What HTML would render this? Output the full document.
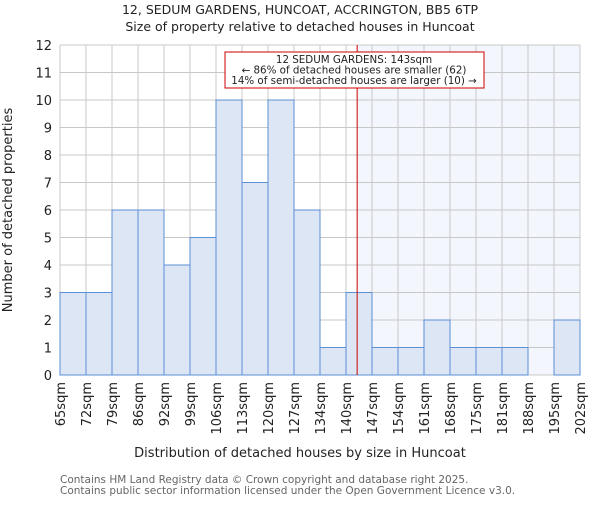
<!DOCTYPE html>
<html><head><meta charset="utf-8"><style>
body{margin:0;background:#fff}
svg{font-family:"DejaVu Sans","Liberation Sans",sans-serif}
</style></head><body>
<svg width="600" height="500">
<g id="root"></g>
</svg>
<script>
const edgeLabels=["65sqm","72sqm","79sqm","86sqm","92sqm","99sqm","106sqm","113sqm","120sqm","127sqm","134sqm","140sqm","147sqm","154sqm","161sqm","168sqm","175sqm","181sqm","188sqm","195sqm","202sqm"];
const counts=[3,3,6,6,4,5,10,7,10,6,1,3,1,1,2,1,1,1,0,2];
const yTicks=[0,1,2,3,4,5,6,7,8,9,10,11,12];
const markerBin=11+3/7;
const X0=60,X1=580,Y0=375,Y1=45,YMAX=12;
const bw=(X1-X0)/counts.length;
const xs=i=>X0+i*bw;
const ys=v=>Y0-(Y0-Y1)*v/YMAX;
const NS="http://www.w3.org/2000/svg";
const root=document.getElementById('root');
function mk(t,a,txt){const e=document.createElementNS(NS,t);for(const k in a)e.setAttribute(k,a[k]);if(txt!==undefined)e.textContent=txt;root.appendChild(e);return e;}
const mx=xs(markerBin);
let sh=mk('rect',{x:mx,y:Y1,width:X1-mx,height:Y0-Y1,fill:'#f3f6fc'});


yTicks.forEach(t=>{let g=mk('line',{x1:X0,x2:X1,y1:ys(t),y2:ys(t),stroke:'#c8c8c8','stroke-width':1});

});
edgeLabels.forEach((l,i)=>{let g=mk('line',{x1:xs(i),x2:xs(i),y1:Y1,y2:Y0,stroke:'#c8c8c8','stroke-width':1});

});
counts.forEach((c,i)=>{if(c<=0)return;let b=mk('rect',{x:xs(i),y:ys(c),width:bw,height:Y0-ys(c),fill:'#dce6f4',stroke:'#5b8fd6','stroke-width':1});

});
let ml=mk('line',{x1:mx,x2:mx,y1:Y1,y2:Y0,stroke:'#cc0000','stroke-width':1});


yTicks.forEach(t=>{let e=mk('text',{x:X0-8,y:ys(t)+5,'text-anchor':'end','font-size':13,fill:'#222'},t);

});
edgeLabels.forEach((l,i)=>{const x=xs(i)+5,y=382;let e=mk('text',{x:x,y:y,transform:`rotate(-90 ${x} ${y})`,'text-anchor':'end','font-size':13,fill:'#222'},l);

});
let bx=mk('rect',{x:225,y:52,width:259,height:36,fill:'#fff',stroke:'#cc0000','stroke-width':1});


["12 SEDUM GARDENS: 143sqm","← 86% of detached houses are smaller (62)","14% of semi-detached houses are larger (10) →"].forEach((s,i)=>{let e=mk('text',{x:354,y:63+i*10.5,'text-anchor':'middle','font-size':10.3,fill:'#222'},s);

});
let t1=mk('text',{x:300,y:14,'text-anchor':'middle','font-size':12.5,fill:'#222'},"12, SEDUM GARDENS, HUNCOAT, ACCRINGTON, BB5 6TP");


let t2=mk('text',{x:300,y:31,'text-anchor':'middle','font-size':12.5,fill:'#222'},"Size of property relative to detached houses in Huncoat");


let xt=mk('text',{x:300,y:457,'text-anchor':'middle','font-size':13,fill:'#222'},"Distribution of detached houses by size in Huncoat");


let yt=mk('text',{x:12,y:210,transform:'rotate(-90 12 210)','text-anchor':'middle','font-size':13,fill:'#222'},"Number of detached properties");


let f1=mk('text',{x:60,y:483,'font-size':10.5,fill:'#666'},"Contains HM Land Registry data © Crown copyright and database right 2025.");


let f2=mk('text',{x:60,y:494,'font-size':10.5,fill:'#666'},"Contains public sector information licensed under the Open Government Licence v3.0.");


</script>
</body></html>
